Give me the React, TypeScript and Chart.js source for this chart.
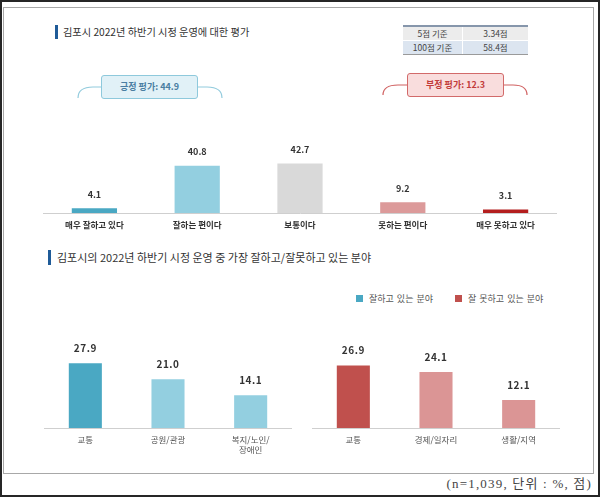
import React, { useEffect, useRef } from "react";
import { Chart, registerables } from "chart.js";

Chart.register(...registerables);

// ---------- data ----------
const ratingCategories = ["매우 잘하고 있다", "잘하는 편이다", "보통이다", "못하는 편이다", "매우 못하고 있다"];
const ratingValues = [4.1, 40.8, 42.7, 9.2, 3.1];
const ratingColors = ["#4aa8c3", "#93cfe0", "#d9d9d9", "#dc9a9a", "#b41e1e"];

const goodCategories: (string | string[])[] = ["교통", "공원/관광", ["복지/노인/", "장애인"]];
const goodValues = [27.9, 21.0, 14.1];
const goodColors = ["#4aa8c3", "#93cfe0", "#93cfe0"];

const badCategories: (string | string[])[] = ["교통", "경제/일자리", "생활/지역"];
const badValues = [26.9, 24.1, 12.1];
const badColors = ["#c0504d", "#db9595", "#db9595"];

const scoreRowLabels = ["5점 기준", "100점 기준"];
const scoreRowValues = ["3.34점", "58.4점"];

const topTitle = "김포시 2022년 하반기 시정 운영에 대한 평가";
const bottomTitle = "김포시의 2022년 하반기 시정 운영 중 가장 잘하고/잘못하고 있는 분야";
const positiveLabel = "긍정 평가: 44.9";
const negativeLabel = "부정 평가: 12.3";
const legendLabels = ["잘하고 있는 분야", "잘 못하고 있는 분야"];
const footnote = "(n=1,039, 단위 : %, 점)";

const FONT = "'Noto Sans CJK KR', 'Noto Sans', sans-serif";

type BarProps = {
  labels: (string | string[])[];
  values: number[];
  colors: string[];
  left: number;
  top: number;
  width: number;
  height: number;
  yMax: number;
  barPct: number;
  axisHeight: number;
  tickSize: number;
  tickWeight: string;
  tickColor: string;
  tickPadding: number;
  tickLineHeight: number;
  valueSize: number;
  valueOffset: number;
  valueSpacing: string;
};

function BarChart(p: BarProps) {
  const ref = useRef<HTMLCanvasElement>(null);
  useEffect(() => {
    const labelPlugin = {
      id: "valueLabels",
      afterDatasetsDraw(chart: any) {
        const ctx = chart.ctx as CanvasRenderingContext2D;
        const meta = chart.getDatasetMeta(0);
        ctx.save();
        ctx.font = `bold ${p.valueSize}px ${FONT}`;
        ctx.fillStyle = "#333333";
        ctx.textAlign = "center";
        ctx.textBaseline = "middle";
        (ctx as any).letterSpacing = p.valueSpacing;
        meta.data.forEach((el: any, i: number) => {
          const v = chart.data.datasets[0].data[i] as number;
          ctx.fillText(v.toFixed(1), el.x, el.y - p.valueOffset);
        });
        ctx.restore();
      },
    };
    const chart = new Chart(ref.current!, {
      type: "bar",
      data: {
        labels: p.labels as any,
        datasets: [
          {
            data: p.values,
            backgroundColor: p.colors,
            borderWidth: 0,
            barPercentage: p.barPct,
            categoryPercentage: 1,
          },
        ],
      },
      options: {
        animation: false,
        responsive: false,
        maintainAspectRatio: false,
        devicePixelRatio: 1,
        events: [],
        layout: { padding: 0 },
        plugins: { legend: { display: false }, tooltip: { enabled: false } },
        scales: {
          x: {
            grid: { display: false, drawTicks: false },
            border: { display: true, color: "#cfcfcf", width: 1 },
            ticks: {
              color: p.tickColor,
              padding: p.tickPadding,
              font: { family: FONT, size: p.tickSize, weight: p.tickWeight as any, lineHeight: p.tickLineHeight },
              maxRotation: 0,
              autoSkip: false,
            },
            afterFit: (s: any) => {
              s.height = p.axisHeight;
            },
          },
          y: { display: false, min: 0, max: p.yMax },
        },
      },
      plugins: [labelPlugin],
    });
    return () => chart.destroy();
  }, []);
  return (
    <canvas
      ref={ref}
      width={p.width}
      height={p.height}
      style={{ position: "absolute", left: p.left, top: p.top, width: p.width, height: p.height }}
    />
  );
}

const abs = (s: React.CSSProperties): React.CSSProperties => ({ position: "absolute", ...s });

export default function App() {
  return (
    <div
      style={abs({
        left: 0,
        top: 0,
        width: 600,
        height: 497,
        boxSizing: "border-box",
        border: "2px solid #262626",
        background: "#ffffff",
        fontFamily: FONT,
        overflow: "hidden",
      })}
    >
      {/* inner frame */}
      <div style={abs({ left: 1, top: 5, width: 591, height: 467, boxSizing: "border-box", border: "1px solid #a8a8a8" })} />

      <div style={abs({ left: -2, top: -2, width: 600, height: 497 })}>
        {/* top title */}
        <div style={abs({ left: 55, top: 25, width: 3, height: 14, background: "#1f5b98" })} />
        <div style={abs({ left: 63, top: 24, height: 16, lineHeight: "16px", fontSize: 10.2, color: "#333", whiteSpace: "nowrap" })}>
          {topTitle}
        </div>

        {/* score table */}
        <div style={abs({ left: 403, top: 25, width: 125, height: 30, boxSizing: "border-box", borderTop: "2px solid #8696ab", borderBottom: "2px solid #9a9a9a" })}>
          {scoreRowLabels.map((lab, i) => (
            <div
              key={i}
              style={abs({
                left: 0,
                top: i * 13.5,
                width: 125,
                height: 13,
                background: i === 0 ? "#ececec" : "#dce5f0",
                display: "flex",
                fontSize: 8.5,
                color: "#444",
                lineHeight: "13px",
              })}
            >
              <div style={{ width: 59, textAlign: "center", borderRight: "1px solid #ffffff" }}>{lab}</div>
              <div style={{ flex: 1, textAlign: "center" }}>{scoreRowValues[i]}</div>
            </div>
          ))}
        </div>

        {/* brackets */}
        <svg width={600} height={497} style={abs({ left: 0, top: 0 })}>
          <path d="M78,98 C78,91 83,87 93,87 L101,87" fill="none" stroke="#92cbdd" strokeWidth={1.2} />
          <path d="M198,87 L207,87 C217,87 222,91 222,98" fill="none" stroke="#92cbdd" strokeWidth={1.2} />
          <path d="M383,95 C383,88 388,85 398,85 L407,85" fill="none" stroke="#d06060" strokeWidth={1.2} />
          <path d="M504,85 L513,85 C522,85 527,88 527,95" fill="none" stroke="#d06060" strokeWidth={1.2} />
        </svg>
        <div
          style={abs({
            left: 101,
            top: 75,
            width: 97,
            height: 24,
            boxSizing: "border-box",
            border: "1px solid #8ec9dc",
            borderRadius: 3,
            background: "#e1f1f7",
            color: "#4a7ea2",
            fontWeight: "bold",
            fontSize: 9,
            lineHeight: "22px",
            textAlign: "center",
          })}
        >
          {positiveLabel}
        </div>
        <div
          style={abs({
            left: 407,
            top: 73,
            width: 97,
            height: 24,
            boxSizing: "border-box",
            border: "1px solid #d26a6a",
            borderRadius: 3,
            background: "#f9dddd",
            color: "#c23b3b",
            fontWeight: "bold",
            fontSize: 9,
            lineHeight: "22px",
            textAlign: "center",
          })}
        >
          {negativeLabel}
        </div>

        <BarChart
          labels={ratingCategories}
          values={ratingValues}
          colors={ratingColors}
          left={43}
          top={97}
          width={514}
          height={140}
          yMax={100}
          barPct={0.44}
          axisHeight={24}
          tickSize={8.5}
          tickWeight="bold"
          tickColor="#333333"
          tickPadding={7}
          tickLineHeight={1.2}
          valueSize={9}
          valueOffset={14}
          valueSpacing="0px"
        />

        {/* bottom title */}
        <div style={abs({ left: 48, top: 250, width: 3, height: 15, background: "#1f5b98" })} />
        <div style={abs({ left: 57, top: 249, height: 16, lineHeight: "16px", fontSize: 11, color: "#333", whiteSpace: "nowrap" })}>
          {bottomTitle}
        </div>

        {/* legend */}
        <div style={abs({ left: 356, top: 295, width: 7, height: 7, background: "#4aa8c3" })} />
        <div style={abs({ left: 369, top: 292, height: 14, lineHeight: "14px", fontSize: 9, color: "#555", whiteSpace: "nowrap", wordSpacing: 1 })}>
          {legendLabels[0]}
        </div>
        <div style={abs({ left: 455, top: 295, width: 7, height: 7, background: "#c0504d" })} />
        <div style={abs({ left: 468, top: 292, height: 14, lineHeight: "14px", fontSize: 9, color: "#555", whiteSpace: "nowrap", wordSpacing: 1 })}>
          {legendLabels[1]}
        </div>

        <BarChart
          labels={goodCategories}
          values={goodValues}
          colors={goodColors}
          left={44}
          top={320}
          width={248}
          height={148}
          yMax={46.5}
          barPct={0.4}
          axisHeight={40}
          tickSize={8.5}
          tickWeight="normal"
          tickColor="#555555"
          tickPadding={6}
          tickLineHeight={1.25}
          valueSize={10}
          valueOffset={15}
          valueSpacing="0.5px"
        />
        <BarChart
          labels={badCategories}
          values={badValues}
          colors={badColors}
          left={312}
          top={320}
          width={248}
          height={148}
          yMax={46.5}
          barPct={0.4}
          axisHeight={40}
          tickSize={8.5}
          tickWeight="normal"
          tickColor="#555555"
          tickPadding={6}
          tickLineHeight={1.25}
          valueSize={10}
          valueOffset={15}
          valueSpacing="0.5px"
        />

        {/* footnote */}
        <div
          style={abs({
            right: 8,
            top: 476,
            height: 16,
            lineHeight: "16px",
            fontSize: 13,
            fontFamily: "'Liberation Serif', 'Noto Sans CJK KR', serif",
            letterSpacing: 1.2,
            color: "#444",
            whiteSpace: "nowrap",
          })}
        >
          {footnote}
        </div>
      </div>
    </div>
  );
}
